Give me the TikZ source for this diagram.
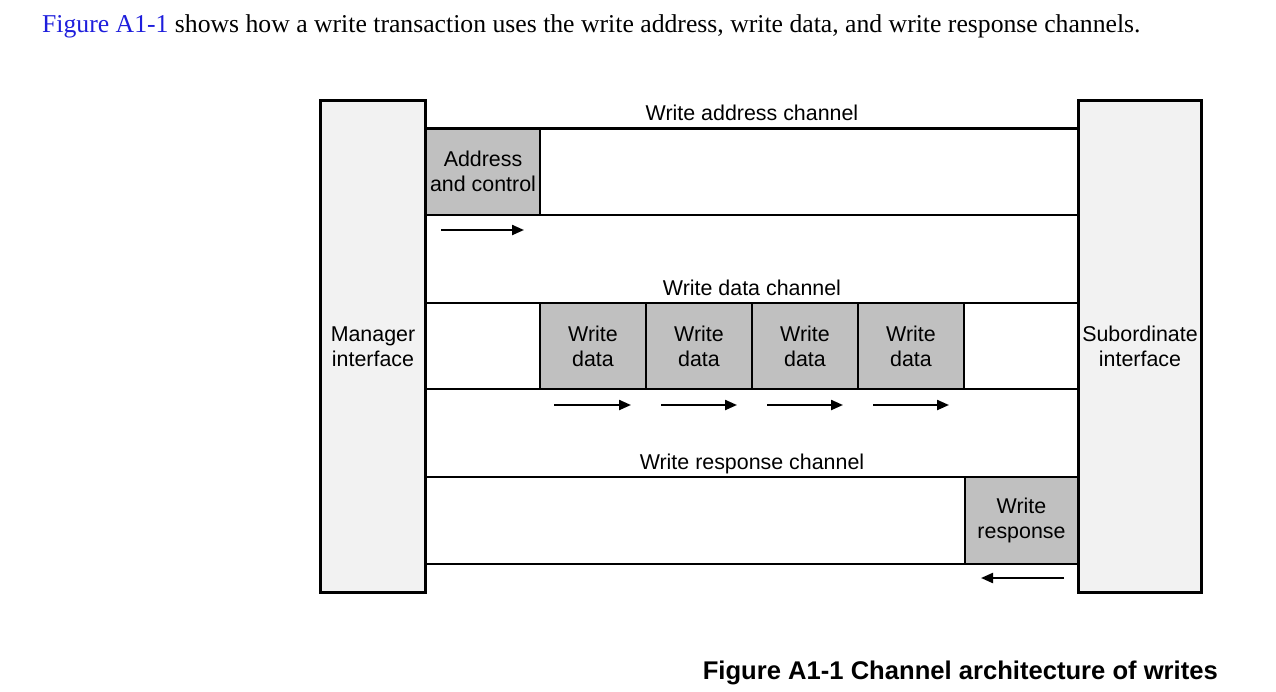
\documentclass[tikz,border=0pt]{standalone}
\usepackage{fontspec}
\setmainfont{Liberation Serif}
\newfontfamily\arial{Liberation Sans}
\usetikzlibrary{arrows.meta}
\definecolor{ifgray}{RGB}{242,242,242}
\definecolor{pktgray}{RGB}{192,192,192}
\definecolor{linkblue}{RGB}{30,30,220}
\begin{document}
\begin{tikzpicture}[x=1pt,y=-1pt,
  dfont/.style={font=\arial\fontsize{21.4}{25}\selectfont},
  iface/.style={draw, line width=3pt, fill=ifgray, inner sep=0pt, outer sep=0pt, anchor=north west, align=center, dfont},
  pkt/.style={draw, line width=2.2pt, fill=pktgray, inner sep=0pt, outer sep=0pt, anchor=north west, align=center, dfont},
  chan/.style={line width=2.6pt},
  lbl/.style={inner sep=0pt, anchor=base, dfont},
  flow/.style={line width=2.2pt, -{Triangle[length=12pt,width=10pt]}}
]
\useasboundingbox (0,0) rectangle (1276,691);
% intro text
\node[anchor=base west, inner sep=0pt, font=\fontsize{25.7}{30}\selectfont] (intro) at (42,32)
  {\textcolor{linkblue}{Figure A1-1} shows how a write transaction uses the write address, write data, and write response channels.};
% channel lines
\draw[chan] (426,128.5) -- (1078,128.5);
\draw[chan] (426,215) -- (1078,215);
\draw[chan] (426,303) -- (1078,303);
\draw[chan] (426,389) -- (1078,389);
\draw[chan] (426,477) -- (1078,477);
\draw[chan] (426,564) -- (1078,564);
% interfaces
\node[iface, minimum width=105pt, minimum height=492pt] (mgr) at (320.5,100.5) {Manager\\interface};
\node[iface, minimum width=123pt, minimum height=492pt] (sub) at (1078.5,100.5) {Subordinate\\interface};
% channel labels
\node[lbl] (lwa) at (752,120.5) {Write address channel};
\node[lbl] (lwd) at (752,295.5) {Write data channel};
\node[lbl] (lwr) at (752,469.5) {Write response channel};
% packets
\node[pkt, minimum width=114pt, minimum height=86.5pt] (addr) at (426,128.5) {Address\\and control};
\node[pkt, minimum width=106pt, minimum height=86pt] (wd1) at (540,303) {Write\\data};
\node[pkt, minimum width=106pt, minimum height=86pt] (wd2) at (646,303) {Write\\data};
\node[pkt, minimum width=106pt, minimum height=86pt] (wd3) at (752,303) {Write\\data};
\node[pkt, minimum width=106pt, minimum height=86pt] (wd4) at (858,303) {Write\\data};
\node[pkt, minimum width=113pt, minimum height=87pt] (wr) at (965,477) {Write\\response};
% flow arrows
\coordinate (a0s) at (441,230); \coordinate (a0e) at (524,230);
\coordinate (a1s) at (554,405); \coordinate (a1e) at (631,405);
\coordinate (a2s) at (661,405); \coordinate (a2e) at (737,405);
\coordinate (a3s) at (767,405); \coordinate (a3e) at (843,405);
\coordinate (a4s) at (873,405); \coordinate (a4e) at (949,405);
\coordinate (r0s) at (1064,578); \coordinate (r0e) at (981,578);
\draw[flow] (a0s) -- (a0e);
\draw[flow] (a1s) -- (a1e);
\draw[flow] (a2s) -- (a2e);
\draw[flow] (a3s) -- (a3e);
\draw[flow] (a4s) -- (a4e);
\draw[flow] (r0s) -- (r0e);
% caption
\node[anchor=base east, inner sep=0pt, font=\arial\bfseries\fontsize{25.6}{30}\selectfont] (cap) at (1218,679)
  {Figure A1-1 Channel architecture of writes};
\end{tikzpicture}
\end{document}
